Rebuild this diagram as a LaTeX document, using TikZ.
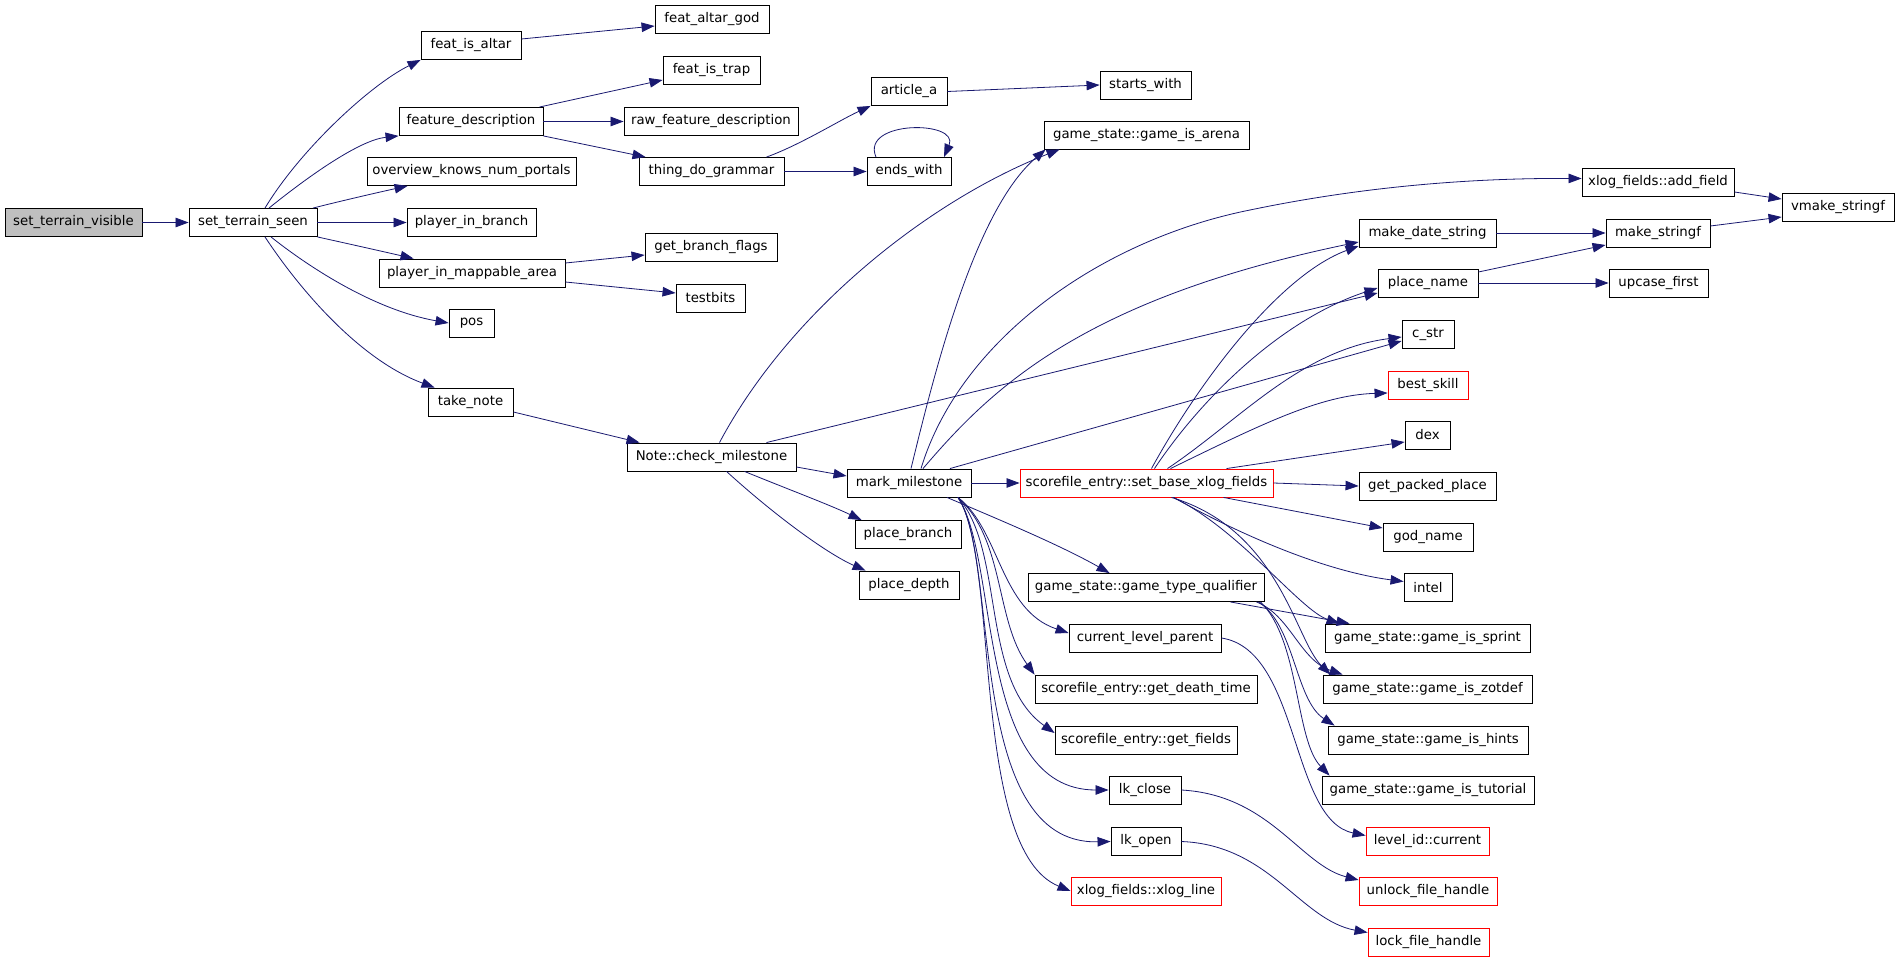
\documentclass[tikz,border=0pt]{standalone}
\usepackage{fontspec}
\setmainfont{DejaVu Sans}
\usetikzlibrary{arrows.meta}
\definecolor{edgec}{HTML}{191970}
\definecolor{grayfill}{HTML}{BFBFBF}
\begin{document}
\begin{tikzpicture}[x=1pt,y=-1pt,
 box/.style={draw=black,line width=0.9pt,inner sep=0pt,minimum height=28pt,font=\fontsize{13.3}{16}\selectfont},
 redbox/.style={box,draw=red},
 call/.style={draw=edgec,line width=0.8pt,-{Triangle[length=13pt,width=9.5pt]}}]
\fill[white] (0,0) rectangle (1899,960);
\useasboundingbox (0,0) rectangle (1899,960);
% nodes
\node[box,fill=grayfill,minimum width=137pt] (stv) at (73.5,222.5) {set\_terrain\_visible};
\node[box,minimum width=128pt] (sts) at (253,222.5) {set\_terrain\_seen};
\node[box,minimum width=100pt] (fia) at (471,45.5) {feat\_is\_altar};
\node[box,minimum width=114pt] (fag) at (712,19) {feat\_altar\_god};
\node[box,minimum width=144pt] (fd) at (471,121.5) {feature\_description};
\node[box,minimum width=97pt] (fit) at (711.5,70) {feat\_is\_trap};
\node[box,minimum width=174pt] (rfd) at (711,121.5) {raw\_feature\_description};
\node[box,minimum width=145pt] (tdg) at (711.5,171.5) {thing\_do\_grammar};
\node[box,minimum width=76pt] (aa) at (909,91.5) {article\_a};
\node[box,minimum width=91pt] (sw) at (1145.5,85) {starts\_with};
\node[box,minimum width=84pt] (ew) at (909,171.5) {ends\_with};
\node[box,minimum width=209pt] (okn) at (471.5,171.5) {overview\_knows\_num\_portals};
\node[box,minimum width=129pt] (pib) at (471.5,222.5) {player\_in\_branch};
\node[box,minimum width=186pt] (pima) at (472,273) {player\_in\_mappable\_area};
\node[box,minimum width=132pt] (gbf) at (711,247.5) {get\_branch\_flags};
\node[box,minimum width=69pt] (tb) at (710.5,298) {testbits};
\node[box,minimum width=45pt] (pos) at (471.5,323) {pos};
\node[box,minimum width=85pt] (tn) at (470.5,402) {take\_note};
\node[box,minimum width=169pt] (ncm) at (711.5,457) {Note::check\_milestone};
\node[box,minimum width=124pt] (mm) at (909,483) {mark\_milestone};
\node[box,minimum width=106pt] (pb) at (908,534.5) {place\_branch};
\node[box,minimum width=100pt] (pd) at (909,585) {place\_depth};
\node[box,minimum width=205pt] (gia) at (1146.5,135) {game\_state::game\_is\_arena};
\node[redbox,minimum width=253pt] (sbx) at (1146.5,483) {scorefile\_entry::set\_base\_xlog\_fields};
\node[box,minimum width=236pt] (gtq) at (1146,587.5) {game\_state::game\_type\_qualifier};
\node[box,minimum width=152pt] (clp) at (1145,638) {current\_level\_parent};
\node[box,minimum width=222pt] (gdt) at (1146,689) {scorefile\_entry::get\_death\_time};
\node[box,minimum width=182pt] (gf) at (1146,740) {scorefile\_entry::get\_fields};
\node[box,minimum width=72pt] (lkc) at (1145,790) {lk\_close};
\node[box,minimum width=70pt] (lko) at (1146,841.5) {lk\_open};
\node[redbox,minimum width=150pt] (xl) at (1146,891) {xlog\_fields::xlog\_line};
\node[box,minimum width=152pt] (af) at (1658,182.5) {xlog\_fields::add\_field};
\node[box,minimum width=112pt] (vms) at (1838,207) {vmake\_stringf};
\node[box,minimum width=137pt] (mds) at (1427.5,233) {make\_date\_string};
\node[box,minimum width=104pt] (msf) at (1658,233) {make\_stringf};
\node[box,minimum width=100pt] (pn) at (1428,283) {place\_name};
\node[box,minimum width=99pt] (uf) at (1658.5,283) {upcase\_first};
\node[box,minimum width=52pt] (cs) at (1428,334) {c\_str};
\node[redbox,minimum width=80pt] (bs) at (1428,385) {best\_skill};
\node[box,minimum width=45pt] (dex) at (1427.5,435) {dex};
\node[box,minimum width=137pt] (gpp) at (1427.5,486) {get\_packed\_place};
\node[box,minimum width=90pt] (gn) at (1428,537) {god\_name};
\node[box,minimum width=48pt] (int) at (1428,587.5) {intel};
\node[box,minimum width=205pt] (gis) at (1427.5,638) {game\_state::game\_is\_sprint};
\node[box,minimum width=209pt] (giz) at (1427.5,689) {game\_state::game\_is\_zotdef};
\node[box,minimum width=200pt] (gih) at (1428,740) {game\_state::game\_is\_hints};
\node[box,minimum width=212pt] (git) at (1428,790) {game\_state::game\_is\_tutorial};
\node[redbox,minimum width=123pt] (lic) at (1427.5,841.5) {level\_id::current};
\node[redbox,minimum width=138pt] (ufh) at (1428,891) {unlock\_file\_handle};
\node[redbox,minimum width=121pt] (lfh) at (1428.5,942.5) {lock\_file\_handle};
% edges from set_terrain_*
\draw[call] (stv.east) -- (sts.west);
\draw[call] ([xshift=12pt]sts.north) .. controls (300,150) and (370,85) .. (fia.south west);
\draw[call] ([xshift=16pt]sts.north) .. controls (310,175) and (360,140) .. (fd.south west);
\draw[call] ([xshift=60pt]sts.north) .. controls (345,200) and (380,192) .. ([xshift=41pt]okn.south west);
\draw[call] (sts.east) -- (pib.west);
\draw[call] (sts.south east) .. controls (345,243) and (385,252) .. ([xshift=35pt]pima.north west);
\draw[call] ([xshift=18pt]sts.south) .. controls (310,268) and (375,310) .. (pos.west);
\draw[call] ([xshift=12pt]sts.south) .. controls (300,290) and (360,360) .. ([xshift=7pt]tn.north west);
% second column
\draw[call] ([yshift=6.5pt]fia.east) -- ([yshift=-7pt]fag.west);
\draw[call] ([xshift=-4pt]fd.north east) -- ([yshift=-10pt]fit.west);
\draw[call] (fd.east) -- (rfd.west);
\draw[call] (fd.south east) -- ([xshift=7pt]tdg.north west);
\draw[call] ([xshift=55pt]tdg.north) .. controls (800,145) and (840,120) .. (aa.south west);
\draw[call] (tdg.east) -- (ew.west);
\draw[call] ([xshift=-33pt]ew.north) .. controls (860,120) and (960,120) .. ([xshift=35pt]ew.north);
\draw[call] (aa.east) -- (sw.west);
\draw[call] ([yshift=10pt]pima.east) -- ([yshift=-7.5pt]gbf.west);
\draw[call] ([yshift=-9pt]pima.east) -- ([yshift=5pt]tb.west);
\draw[call] ([yshift=-10pt]tn.east) -- ([xshift=13pt]ncm.north west);
% Note::check_milestone
\draw[call] ([xshift=8pt]ncm.north) .. controls (790,310) and (930,200) .. ([xshift=16pt]gia.south west);
\draw[call] ([xshift=55pt]ncm.north) -- ([yshift=-10pt]pn.west);
\draw[call] ([yshift=-10pt]ncm.east) -- ([yshift=7pt]mm.west);
\draw[call] ([xshift=33pt]ncm.south) .. controls (790,490) and (830,505) .. ([xshift=7pt]pb.north west);
\draw[call] ([xshift=15pt]ncm.south) .. controls (780,520) and (830,555) .. ([xshift=7pt]pd.north west);
% mark_milestone
\draw[call] ([xshift=2pt]mm.north) .. controls (935,370) and (975,210) .. ([xshift=2pt]gia.south west);
\draw[call] ([xshift=12pt]mm.north) .. controls (960,340) and (1100,240) .. (1250,210) .. controls (1370,185) and (1480,178) .. ([yshift=4pt]af.west);
\draw[call] ([xshift=14pt]mm.north) .. controls (990,390) and (1080,300) .. ([yshift=-9pt]mds.west);
\draw[call] ([xshift=41pt]mm.north) -- ([yshift=-7pt]cs.west);
\draw[call] (mm.east) -- (sbx.west);
\draw[call] ([xshift=38pt]mm.south) .. controls (1000,520) and (1060,545) .. ([xshift=82pt]gtq.north west);
\draw[call] ([xshift=49pt]mm.south) .. controls (1000,530) and (1000,610) .. ([yshift=5pt]clp.west);
\draw[call] ([xshift=49pt]mm.south) .. controls (1005,540) and (995,620) .. (gdt.north west);
\draw[call] ([xshift=49pt]mm.south) .. controls (1005,550) and (980,680) .. ([yshift=7pt]gf.west);
\draw[call] ([xshift=49pt]mm.south) .. controls (1000,560) and (975,790) .. (lkc.west);
\draw[call] ([xshift=49pt]mm.south) .. controls (1000,560) and (965,845) .. (lko.west);
\draw[call] ([xshift=49pt]mm.south) .. controls (1000,560) and (970,850) .. (xl.west);
% set_base_xlog_fields
\draw[call] ([xshift=5pt]sbx.north) .. controls (1200,380) and (1280,275) .. ([yshift=-13pt]mds.west);
\draw[call] ([xshift=8pt]sbx.north) .. controls (1200,400) and (1280,320) .. ([yshift=-5pt]pn.west);
\draw[call] ([xshift=21pt]sbx.north) .. controls (1240,420) and (1300,350) .. ([yshift=-3pt]cs.west);
\draw[call] ([xshift=24pt]sbx.north) .. controls (1260,425) and (1320,395) .. ([yshift=-8pt]bs.west);
\draw[call] ([xshift=80pt]sbx.north) -- ([yshift=-7pt]dex.west);
\draw[call] (sbx.east) -- (gpp.west);
\draw[call] ([xshift=77pt]sbx.south) -- ([yshift=9pt]gn.west);
\draw[call] ([xshift=27pt]sbx.south) .. controls (1250,540) and (1330,572) .. ([yshift=6pt]int.west);
\draw[call] ([xshift=27pt]sbx.south) .. controls (1240,530) and (1300,610) .. ([xshift=15pt]gis.north west);
\draw[call] ([xshift=25pt]sbx.south) .. controls (1280,530) and (1295,640) .. ([xshift=8pt]giz.north west);
% game_type_qualifier
\draw[call] ([xshift=-34pt]gtq.south east) -- ([xshift=25pt]gis.north west);
\draw[call] ([xshift=-8pt]gtq.south east) .. controls (1290,615) and (1300,660) .. ([xshift=20pt]giz.north west);
\draw[call] ([xshift=-6pt]gtq.south east) .. controls (1295,625) and (1295,700) .. ([xshift=7pt]gih.north west);
\draw[call] ([xshift=-4pt]gtq.south east) .. controls (1300,640) and (1295,740) .. ([xshift=8pt]git.north west);
% others
\draw[call] (clp.east) .. controls (1300,650) and (1290,820) .. ([yshift=6pt]lic.west);
\draw[call] (lkc.east) .. controls (1270,795) and (1300,865) .. ([yshift=11pt]ufh.west);
\draw[call] (lko.east) .. controls (1270,845) and (1300,920) .. ([yshift=10pt]lfh.west);
\draw[call] (mds.east) -- (msf.west);
\draw[call] ([yshift=11pt]pn.east) -- ([yshift=-12pt]msf.west);
\draw[call] (pn.east) -- (uf.west);
\draw[call] ([yshift=7pt]msf.east) -- ([yshift=-10pt]vms.west);
\draw[call] ([yshift=-9.5pt]af.east) -- ([yshift=8pt]vms.west);
\end{tikzpicture}
\end{document}
